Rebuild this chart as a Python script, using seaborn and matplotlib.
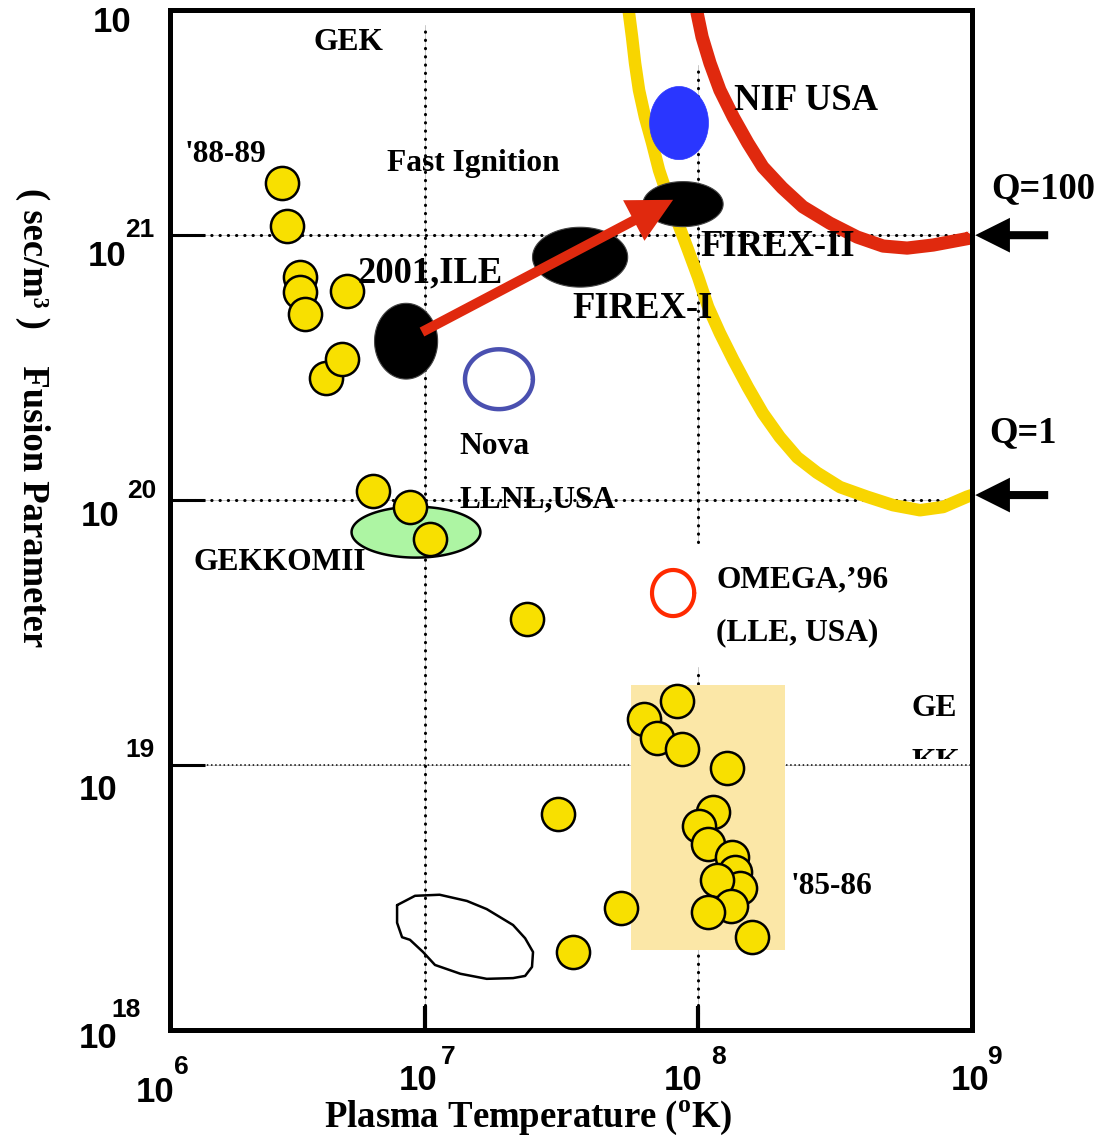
import numpy as np
import matplotlib
matplotlib.use('Agg')
import matplotlib.pyplot as plt
import seaborn as sns
from matplotlib.patches import Rectangle

# ---- data (temperature in K, fusion parameter in sec/m^3) ----
# yellow shots, in drawing order
shot_temp = [2.62e6, 2.74e6, 3.06e6, 3.06e6, 3.20e6, 4.59e6, 3.83e6, 4.40e6,
             5.75e6, 7.90e6, 9.39e6, 2.17e7, 2.83e7, 4.87e7, 3.22e7,
             5.93e7, 7.88e7, 6.64e7, 8.23e7, 1.21e8, 1.075e8, 9.53e7, 1.03e8,
             1.27e8, 1.30e8, 1.36e8, 1.11e8, 1.25e8, 1.03e8, 1.50e8]
shot_param = [1.58e21, 1.08e21, 6.95e20, 6.10e20, 5.04e20, 6.15e20, 2.89e20, 3.40e20,
              1.08e20, 9.42e19, 7.13e19, 3.56e19, 6.53e18, 2.88e18, 1.97e18,
              1.49e19, 1.75e19, 1.26e19, 1.15e19, 9.75e18, 6.65e18, 5.89e18, 5.04e18,
              4.50e18, 3.95e18, 3.44e18, 3.68e18, 2.94e18, 2.79e18, 2.24e18]

# Q=1 curve (yellow)
q1_temp = [5.13e7, 5.21e7, 5.35e7, 5.49e7, 5.68e7, 5.98e7, 6.36e7, 6.75e7, 7.30e7,
           7.95e7, 8.67e7, 9.45e7, 1.03e8, 1.14e8, 1.28e8, 1.45e8, 1.65e8, 1.91e8,
           2.22e8, 2.63e8, 3.21e8, 4.05e8, 5.07e8, 6.39e8, 7.80e8, 9.58e8, 1.0e9]
q1_param = [8.05e21, 6.89e21, 5.60e21, 4.46e21, 3.53e21, 2.79e21, 2.23e21, 1.76e21, 1.39e21,
            1.11e21, 8.79e20, 6.95e20, 5.36e20, 4.27e20, 3.38e20, 2.67e20, 2.13e20, 1.73e20,
            1.45e20, 1.27e20, 1.12e20, 1.03e20, 9.57e19, 9.16e19, 9.42e19, 1.03e20, 1.045e20]

# Q=100 curve (red)
q100_temp = [9.20e7, 9.37e7, 9.78e7, 1.047e8, 1.14e8, 1.28e8, 1.45e8, 1.65e8, 1.95e8,
             2.33e8, 2.94e8, 3.72e8, 4.65e8, 5.72e8, 7.15e8, 9.83e8, 1.0e9]
q100_param = [8.05e21, 6.89e21, 5.60e21, 4.46e21, 3.53e21, 2.79e21, 2.23e21, 1.81e21, 1.51e21,
              1.28e21, 1.11e21, 9.84e20, 9.10e20, 8.94e20, 9.18e20, 9.75e20, 1.0e21]

# machines / regions drawn as ellipses
ellipse_names = ['2001,ILE', 'FIREX-I', 'FIREX-II', 'NIF', 'Nova', 'GEKKO MII', 'OMEGA']
ellipse_temp = [7.64e6, 3.42e7, 8.30e7, 8.02e7, 1.70e7, 8.32e6, 7.62e7]
ellipse_param = [3.98e20, 8.26e20, 1.31e21, 2.65e21, 2.86e20, 7.57e19, 4.46e19]

# open outline near the bottom
blob_temp = [7.07e6, 8.25e6, 1.02e7, 1.29e7, 1.53e7, 1.92e7, 2.13e7, 2.28e7, 2.26e7,
             2.13e7, 1.92e7, 1.53e7, 1.22e7, 9.80e6, 8.84e6, 7.90e6, 7.38e6, 7.07e6, 7.07e6]
blob_param = [2.96e18, 3.21e18, 3.24e18, 3.07e18, 2.86e18, 2.49e18, 2.22e18, 1.97e18, 1.73e18,
              1.60e18, 1.57e18, 1.56e18, 1.63e18, 1.76e18, 1.97e18, 2.19e18, 2.24e18, 2.54e18, 2.96e18]

# '85-86 box
box_temp = [5.3e7, 2.0e8]
box_param = [2.0e18, 2.0e19]

# fast ignition path
arrow_temp = [8.76e6, 7.62e7]
arrow_param = [4.31e20, 1.36e21]

grid_temp = [9.0e6, 9.45e7]
grid_param = [1e19, 1e20, 1e21]

W, H = 1100, 1139
YELLOW = '#F8E000'
CURVE_Y = '#F8D500'
RED = '#E0290E'


def fig_xy(x, y):
    return x / W, 1 - y / H


def log_ellipse(cx, cy, a, b):
    t = np.linspace(0, 2 * np.pi, 160)
    return 10 ** (np.log10(cx) + a * np.cos(t)), 10 ** (np.log10(cy) + b * np.sin(t))


sns.set_style('white')
plt.rcParams['font.family'] = ['Liberation Serif', 'DejaVu Serif']
plt.rcParams['text.color'] = 'black'
plt.rcParams['mathtext.fontset'] = 'custom'
plt.rcParams['mathtext.rm'] = 'Liberation Serif:bold'
plt.rcParams['mathtext.bf'] = 'Liberation Serif:bold'

fig = plt.figure(figsize=(W / 100, H / 100), dpi=100)
ax = fig.add_axes([170 / W, 1 - 1030 / H, 802 / W, 1020 / H])
ax.set_xscale('log')
ax.set_yscale('log')
ax.set_xlim(1e6, 1e9)
ax.set_ylim(1e18, 10 ** 21.85)
ax.set_axisbelow(False)

for s in ax.spines.values():
    s.set_linewidth(3.6)
    s.set_color('black')
    s.set_zorder(10)

ax.set_xticks(grid_temp)
ax.set_yticks(grid_param)
ax.minorticks_off()
ax.tick_params(axis='x', direction='in', length=17, width=3, color='black',
               bottom=True, top=False, labelbottom=False)
ax.tick_params(axis='y', direction='in', length=25, width=2.2, color='black',
               left=True, right=False, labelleft=False)

# dotted reference lines
dots = (0, (0.1, 2.6))
for p in grid_param:
    thin = p < 5e19
    ax.axhline(p, color='#c8c8c8', lw=0.7, zorder=0.8)
    ax.axhline(p, color='black', lw=1.2 if thin else 2.2, ls=(0, (0.1, 2.4)) if thin else dots,
               dash_capstyle='round', zorder=1)
spans = [[(1e18, 6.2e21)], [(1e18, 2.34e19), (6.95e19, 4.38e21)]]
for t, segs in zip(grid_temp, spans):
    for lo, hi in segs:
        ax.plot([t, t], [lo, hi], color='#c8c8c8', lw=0.7, zorder=0.8)
        ax.plot([t, t], [lo, hi], color='black', lw=2.2, ls=dots, dash_capstyle='round', zorder=1)

ax.add_patch(Rectangle((box_temp[0], box_param[0]), box_temp[1] - box_temp[0],
                       box_param[1] - box_param[0], fc='#FBE7A7', ec='none', zorder=1.5))

# ignition curves
sns.lineplot(x=q1_temp, y=q1_param, sort=False, estimator=None, color=CURVE_Y, lw=9,
             solid_joinstyle='round', solid_capstyle='butt', ax=ax, zorder=2)
sns.lineplot(x=q100_temp, y=q100_param, sort=False, estimator=None, color=RED, lw=9.5,
             solid_joinstyle='round', solid_capstyle='butt', ax=ax, zorder=2)

# ellipses: semi-axes in decades (x, y)
semi = [(0.118, 0.143), (0.178, 0.113), (0.150, 0.085), (0.110, 0.138),
        (0.127, 0.113), (0.241, 0.096), (0.079, 0.087)]
fills = {'2001,ILE': ('black', '#444444', 0.8), 'FIREX-I': ('black', '#444444', 0.8),
         'FIREX-II': ('black', '#444444', 0.8), 'NIF': ('#2A36FF', '#2A36FF', 0.5),
         'GEKKO MII': ('#ADF5A3', 'black', 1.8)}
for name, cx, cy, (a, b) in zip(ellipse_names, ellipse_temp, ellipse_param, semi):
    ex, ey = log_ellipse(cx, cy, a, b)
    if name in fills:
        fc, ec, lw = fills[name]
        ax.fill(ex, ey, fc=fc, ec=ec, lw=lw, zorder=3)
    elif name == 'Nova':
        ax.plot(ex, ey, color='#4A50B0', lw=3.2, zorder=3)
    else:
        ring = ax.plot(ex, ey, color='#FF2A00', lw=3.0, zorder=3)[0]
        ring.set_clip_path(Rectangle(fig_xy(170, 1030), (697 - 170) / W, 1020 / H,
                                     transform=fig.transFigure))

ax.plot(blob_temp, blob_param, color='black', lw=1.8, zorder=3, solid_joinstyle='round')

# shots
sns.scatterplot(x=shot_temp, y=shot_param, s=570, color=YELLOW, edgecolor='black',
                linewidth=1.8, legend=False, ax=ax, zorder=4)

# fast ignition arrow
ax.annotate('', xy=(arrow_temp[1], arrow_param[1]), xytext=(arrow_temp[0], arrow_param[0]),
            arrowprops=dict(arrowstyle='simple,head_length=32,head_width=33,tail_width=7.2',
                            mutation_scale=1, color=RED, lw=0, shrinkA=0, shrinkB=0), zorder=5)

# Q arrows outside the frame
for yv in [q100_param[-1], q1_param[-1]]:
    ax.annotate('', xy=(1.004, yv), xycoords=('axes fraction', 'data'),
                xytext=(1.095, yv), textcoords=('axes fraction', 'data'),
                arrowprops=dict(arrowstyle='simple,head_length=25,head_width=25,tail_width=5.8',
                                mutation_scale=1, color='black', lw=0, shrinkA=0, shrinkB=0),
                annotation_clip=False)

ax.set_xlabel('')
ax.set_ylabel('')

# labels
small, big = 22.7, 26.4
labels = [
    ('GEK', 348, 42, small, 'center'),
    ("'88-89", 225, 154, small, 'center'),
    ('Fast Ignition', 473, 163, small, 'center'),
    ('NIF USA', 806, 101, big, 'center'),
    ('Q=100', 1043, 189, big, 'center'),
    ('FIREX-II', 778, 246, big, 'center'),
    ('2001,ILE', 430, 273, big, 'center'),
    ('FIREX-I', 643, 309, big, 'center'),
    ('Q=1', 1023, 433, big, 'center'),
    ('Nova', 494, 446, small, 'center'),
    ('LLNL,USA', 538, 500, small, 'center'),
    ('GEKKOMII', 280, 562, small, 'center'),
    ('OMEGA,\u201996', 716, 580, small, 'left'),
    ('(LLE, USA)', 716, 633, small, 'left'),
    ('GE', 934, 708, small, 'center'),
    ("'85-86", 831, 886, small, 'center'),
]
for txt, x, y, size, ha in labels:
    fig.text(*fig_xy(x, y), txt, fontsize=size, fontweight='bold', ha=ha, va='center',
             zorder=6)

kk = fig.text(*fig_xy(936, 763), 'KK', fontsize=small, fontweight='bold', ha='center', va='center')
kk.set_clip_path(Rectangle(fig_xy(900, 759), 80 / W, 30 / H, transform=fig.transFigure))

# tick numbers
num = dict(family='Liberation Sans', fontweight='bold', ha='center', va='center')
ytick_labels = [('10', 112, 22, None), ('10', 107, 256, ('21', 140, 230)),
                ('10', 100, 517, ('20', 142, 491)), ('10', 98, 790, ('19', 140, 750)),
                ('10', 98, 1038, ('18', 126, 1010))]
xtick_labels = [('10', 155, 1092, ('6', 181, 1067)), ('10', 418, 1081, ('7', 448, 1057)),
                ('10', 683, 1081, ('8', 718, 1057)), ('10', 970, 1081, ('9', 994, 1057))]
for base, x, y, exp in ytick_labels + xtick_labels:
    fig.text(*fig_xy(x, y), base, fontsize=25, **num)
    if exp:
        fig.text(*fig_xy(exp[1], exp[2]), exp[0], fontsize=19, **num)

fig.text(*fig_xy(528, 1118), r'Plasma Temperature ($^{\rm o}$K)', fontsize=26.5,
         fontweight='bold', ha='center', va='center')
fig.text(*fig_xy(33, 418), '( sec/m\u00b3 )    Fusion Parameter', fontsize=26.4,
         fontweight='bold', ha='center', va='center', rotation=-90)

fig.savefig('out.png', dpi=100)
